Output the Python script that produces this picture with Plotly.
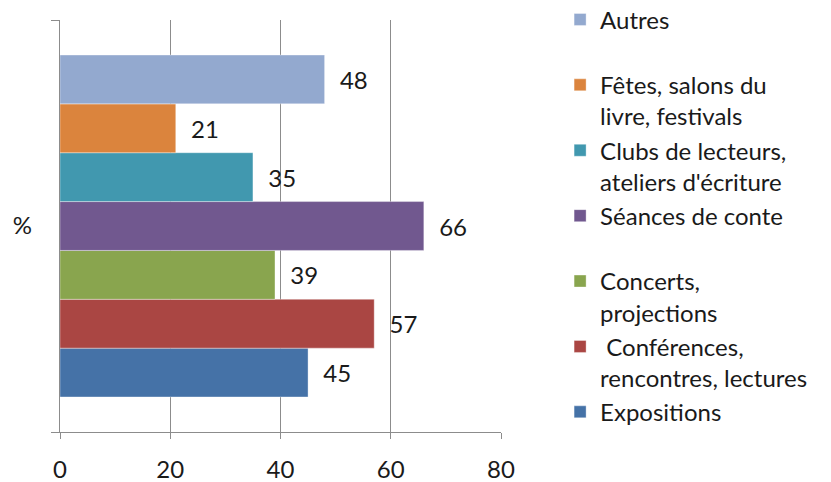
import plotly.graph_objects as go

category = ["%"]
series_names = [
    "Expositions<br>\u00a0",
    "\u00a0Conférences,<br>rencontres, lectures",
    "Concerts,<br>projections",
    "Séances de conte<br>\u00a0",
    "Clubs de lecteurs,<br>ateliers d'écriture",
    "Fêtes, salons du<br>livre, festivals",
    "Autres<br>\u00a0",
]
series_values = [45, 57, 39, 66, 35, 21, 48]
series_colors = ["#4572A7", "#AA4643", "#89A54E", "#71588F", "#4198AF", "#DB843D", "#93A9CF"]
x_ticks = [0, 20, 40, 60, 80]

FONT = "Lato, 'Open Sans', sans-serif"
TXT = "#1a1a1a"
GRID = "#8c8c8c"

fig = go.Figure()
n = len(series_names)
for i, (name, val, col) in enumerate(zip(series_names, series_values, series_colors)):
    fig.add_trace(go.Bar(
        y=category, x=[val], name=name, orientation="h",
        marker=dict(color=col, line=dict(color="rgba(255,255,255,0.6)", width=0.6)),
        text=[val], texttemplate="\u00a0\u00a0%{x}", textposition="outside",
        textfont=dict(family=FONT, size=24, color=TXT),
        cliponaxis=False, legendrank=n - i,
    ))

fig.update_layout(
    width=831, height=482,
    margin=dict(l=60, r=330, t=20, b=50, autoexpand=False),
    paper_bgcolor="white", plot_bgcolor="white",
    barmode="group", bargap=0.17,
    font=dict(family=FONT, size=24, color=TXT),
    showlegend=True,
    legend=dict(
        x=1.134, xanchor="left", y=1.055, yanchor="top",
        traceorder="normal", valign="top", maxheight=1,
        font=dict(family=FONT, size=24, color=TXT),
        bgcolor="rgba(0,0,0,0)",
    ),
)
fig.update_xaxes(
    range=[0, 80], tickvals=x_ticks, ticktext=[str(t) for t in x_ticks],
    showgrid=True, gridcolor=GRID, gridwidth=1.2,
    showline=True, linecolor=GRID, linewidth=1.2,
    ticks="outside", ticklen=6, tickcolor=GRID, tickwidth=1.2,
    ticklabelstandoff=10, zeroline=False,
    tickfont=dict(family=FONT, size=24, color=TXT),
)
fig.update_yaxes(
    showline=True, linecolor=GRID, linewidth=1.2,
    ticks="outside", tickson="boundaries", ticklen=8, tickcolor=GRID, tickwidth=1.2,
    ticklabelstandoff=22, showgrid=False,
    tickfont=dict(family=FONT, size=24, color=TXT),
)
fig.write_html(
    "out.html",
    config={"displayModeBar": False},
    post_script="document.body.style.margin='0';document.body.style.overflow='hidden';",
)
